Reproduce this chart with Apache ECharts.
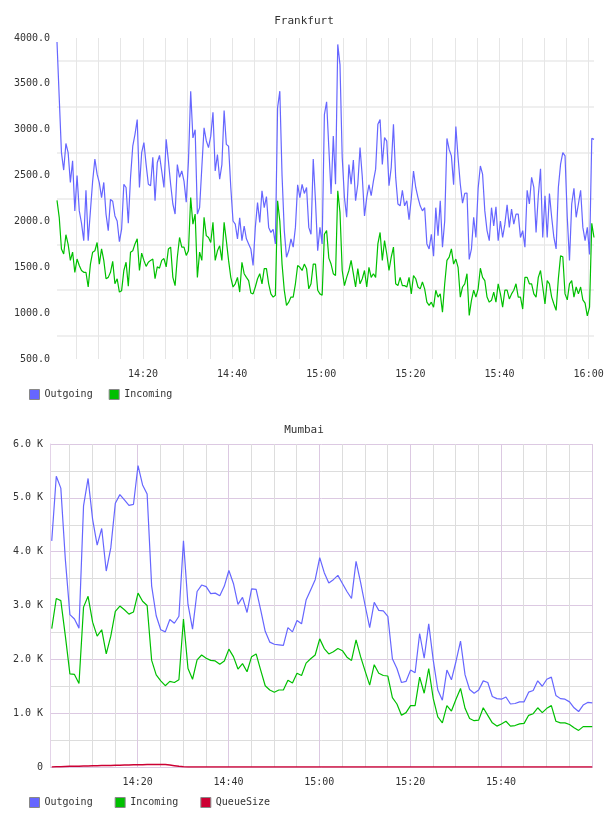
<!DOCTYPE html>
<html>
<head>
<meta charset="utf-8">
<script src="https://cdn.jsdelivr.net/npm/echarts@6/dist/echarts.min.js"></script>
<style>
  html, body { margin: 0; padding: 0; background: #fff; }
  #chart { width: 608px; height: 816px; }
</style>
</head>
<body>
<div id="chart"></div>
<script>
// Frankfurt: one sample every 30 s
const fraStart = '14:00:42'
const fraStepSec = 30
const fraExtent = ['14:00:42', '16:01:12']
const fraOutgoing = [
  3957, 3350, 2750, 2560, 2850, 2750, 2425, 2660, 2115, 2500,
  2115, 1980, 1790, 2340, 1790, 2115, 2440, 2680, 2515, 2420,
  2260, 2425, 2080, 1900, 2240, 2220, 2060, 2005, 1780, 1915,
  2405, 2370, 1980, 2480, 2820, 2950, 3110, 2370, 2750, 2860,
  2620, 2405, 2390, 2700, 2225, 2640, 2720, 2550, 2370, 2895,
  2660, 2405, 2190, 2080, 2620, 2480, 2550, 2440, 2210, 2660,
  3420, 2910, 3000, 2080, 2150, 2590, 3020, 2880, 2805, 2930,
  3190, 2550, 2730, 2460, 2620, 3210, 2840, 2820, 2370, 2005,
  1970, 1810, 2040,
  1790, 1950, 1810, 1755, 1700, 1520, 1935, 2205, 1990, 2335,
  2150, 2270, 1935, 1880, 1915, 1755, 3240, 3420, 2500, 1900,
  1610, 1680, 1810, 1720, 1935, 2400, 2260, 2405, 2305, 2370,
  1935, 1860, 2680, 2225, 1680, 1935, 1755, 3165, 3305, 2800,
  2300, 2930, 2405, 3930, 3710, 2700, 2260, 2045, 2620, 2405,
  2670, 2225, 2405, 2805, 2490, 2060, 2260, 2400, 2280, 2440,
  2570, 3060, 3110, 2620, 2915, 2875, 2390, 2590, 3060, 2480,
  2190, 2170,
  2340, 2170, 2225, 2020, 2250, 2550, 2370, 2260, 2170, 2115,
  2150, 1755, 1700, 1860, 1620, 2150, 1845, 2225, 1720, 2005,
  2905, 2785, 2715, 2400, 3035, 2695, 2405, 2200, 2305, 2310,
  1585, 1700, 2045, 1825, 2360, 2605, 2515, 2115, 1900, 1790,
  2150, 1950, 2160, 1790, 2005, 1825, 1970, 2180, 1935, 2135,
  1970, 2080, 2080, 1825, 1900, 1720, 2340, 2190, 2480, 2370,
  1880, 2280, 2575, 1825, 2280, 1825, 2305, 2045, 1825, 1700,
  2370, 2625, 2750, 2715, 2045, 1575, 2190, 2360, 2045, 2190,
  2340, 1935, 1790, 1935, 1640, 2905, 2895
]
const fraIncoming = [
  2230, 2045, 1700, 1645, 1855, 1750, 1575, 1665, 1445, 1590,
  1520, 1465, 1445, 1445, 1285, 1535, 1665, 1680, 1770, 1535,
  1700, 1575, 1375, 1390, 1445, 1565, 1320, 1375, 1230, 1245,
  1465, 1555, 1295, 1665, 1680, 1755, 1810, 1465, 1655, 1575,
  1510, 1555, 1575, 1590, 1375, 1505, 1490, 1575, 1595, 1505,
  1700, 1720, 1390, 1300, 1610, 1825, 1720, 1720, 1630, 1680,
  2260, 1970, 2080, 1390, 1665, 1575, 2045, 1845, 1825, 1770,
  1990, 1575, 1680, 1735, 1575, 1990, 1790, 1575, 1390, 1285,
  1320, 1390, 1230,
  1555, 1430, 1390, 1355, 1220, 1210, 1285, 1375, 1430, 1320,
  1485, 1485, 1320, 1210, 1175, 1195, 2225, 2005, 1535, 1250,
  1085, 1120, 1175, 1175, 1320, 1520, 1500, 1465, 1535, 1485,
  1265, 1320, 1535, 1535, 1250, 1210, 1195, 1860, 1900, 1600,
  1535, 1430, 1410, 2335, 2100, 1465, 1300, 1390, 1465, 1575,
  1430, 1285, 1485, 1320, 1375, 1465, 1285, 1500, 1390, 1430,
  1390, 1755, 1880, 1575, 1790, 1645, 1465, 1610, 1720, 1320,
  1300, 1390,
  1300, 1300, 1285, 1390, 1210, 1410, 1375, 1285, 1265, 1340,
  1265, 1120, 1085, 1120, 1065, 1250, 1175, 1210, 1010, 1320,
  1575, 1610, 1700, 1535, 1590, 1500, 1175, 1285, 1320, 1430,
  975, 1140, 1250, 1175, 1265, 1490, 1390, 1355, 1175, 1120,
  1140, 1230, 1120, 1320, 1210, 1065, 1250, 1250, 1155, 1210,
  1250, 1320, 1175, 1175, 1045, 1390, 1390, 1320, 1320, 1210,
  1175, 1390, 1465, 1285, 1100, 1355, 1320, 1175, 1100, 1030,
  1375, 1625, 1615, 1210, 1145, 1320, 1355, 1175, 1285, 1210,
  1285, 1145, 1110, 970, 1065, 1980, 1825
]

// Mumbai: one sample every minute
const mumStart = '14:01:05'
const mumStepSec = 60
const mumExtent = ['14:00:42', '16:00:15']
const mumOutgoing = [
  4200, 5400, 5180, 3850, 2830, 2750, 2580, 4850, 5360, 4600,
  4120, 4430, 3640, 4070, 4900, 5060, 4960, 4860, 4880, 5600,
  5240, 5070, 3360, 2810, 2550, 2510, 2740, 2670, 2800, 4200,
  3020, 2560, 3260, 3380, 3350, 3220, 3230, 3180, 3360, 3650,
  3410, 3020, 3150, 2870, 3310, 3300, 2920, 2520, 2320, 2280,
  2270, 2260, 2590, 2510, 2720, 2660, 3100, 3290, 3480, 3890,
  3610, 3420, 3480, 3560, 3410, 3260, 3130, 3820, 3430, 3000,
  2590, 3060, 2910, 2900, 2800, 2010, 1830, 1570, 1590, 1800,
  1750, 2480, 2020, 2660, 1980, 1430, 1240, 1800, 1620, 1960,
  2340, 1710, 1440, 1370, 1430, 1600, 1570, 1310, 1270, 1260,
  1300, 1170, 1180, 1210, 1210, 1390, 1420, 1600, 1500, 1630,
  1670, 1330, 1270, 1260, 1210, 1100, 1030, 1150, 1200, 1190
]
const mumIncoming = [
  2570, 3130, 3090, 2430, 1730, 1720, 1550, 2970, 3170, 2690,
  2430, 2550, 2100, 2430, 2890, 2990, 2920, 2840, 2880, 3230,
  3080, 3000, 1980, 1710, 1600, 1510, 1590, 1570, 1620, 2750,
  1830, 1630, 1990, 2080, 2020, 1980, 1970, 1910, 1970, 2190,
  2050, 1820, 1920, 1770, 2050, 2100, 1800, 1510, 1430, 1390,
  1430, 1430, 1610, 1560, 1740, 1700, 1930, 2010, 2080, 2380,
  2200, 2100, 2140, 2200, 2160, 2040, 1980, 2360, 2050, 1780,
  1520, 1900, 1740, 1700, 1690, 1290, 1170, 960, 1010, 1140,
  1140, 1670, 1370, 1830, 1270, 930, 820, 1140, 1040, 1260,
  1460, 1090, 900, 860, 870, 1100, 960, 820, 760, 800,
  850, 760, 770, 800, 810, 960, 990, 1100, 1010, 1090,
  1140, 850, 820, 820, 790, 730, 680, 750, 750, 750
]
const mumQueueSize = [
  0, 3, 6, 9, 12, 14, 16, 18, 20, 22,
  24, 26, 28, 30, 32, 34, 36, 38, 40, 42,
  44, 45, 46, 47, 48, 46, 38, 25, 12, 4,
  0, 0, 0, 0, 0, 0, 0, 0, 0, 0,
  0, 0, 0, 0, 0, 0, 0, 0, 0, 0,
  0, 0, 0, 0, 0, 0, 0, 0, 0, 0,
  0, 0, 0, 0, 0, 0, 0, 0, 0, 0,
  0, 0, 0, 0, 0, 0, 0, 0, 0, 0,
  0, 0, 0, 0, 0, 0, 0, 0, 0, 0,
  0, 0, 0, 0, 0, 0, 0, 0, 0, 0,
  0, 0, 0, 0, 0, 0, 0, 0, 0, 0,
  0, 0, 0, 0, 0, 0, 0, 0, 0, 0
]

// axis ticks
const fraTimeLabels = ['14:20', '14:40', '15:00', '15:20', '15:40', '16:00']
const mumTimeLabels = ['14:20', '14:40', '15:00', '15:20', '15:40']
const gridTimes = [
  '14:05', '14:10', '14:15', '14:20', '14:25', '14:30', '14:35', '14:40',
  '14:45', '14:50', '14:55', '15:00', '15:05', '15:10', '15:15', '15:20',
  '15:25', '15:30', '15:35', '15:40', '15:45', '15:50', '15:55', '16:00'
]

const FONT = 'DejaVu Sans Mono'
const TEXT = '#333'

// time as seconds since midnight, drawn on a value axis
const toSec = s => {
  const p = s.split(':').map(Number)
  return p[0] * 3600 + p[1] * 60 + (p[2] || 0)
}
const withTime = (start, step, values) => {
  const t0 = toSec(start)
  return values.map((v, i) => [t0 + i * step, v])
}
const hhmm = v => {
  const m = Math.round(v / 60)
  return String(Math.floor(m / 60)).padStart(2, '0') + ':' + String(m % 60).padStart(2, '0')
}

const gridSec = gridTimes.map(toSec)
const mumGridColors = gridTimes.map(t => (Number(t.split(':')[1]) % 20 === 0 ? '#dcc9e2' : '#dddddd'))

const chart = echarts.init(document.getElementById('chart'), null, { renderer: 'canvas' })

const lineSeries = (name, color, data, idx, width) => ({
  name,
  type: 'line',
  xAxisIndex: idx,
  yAxisIndex: idx,
  data,
  showSymbol: false,
  symbol: 'none',
  lineStyle: { color, width: width || 1.2 },
  itemStyle: { color },
  emphasis: { disabled: true }
})

const legendBase = {
  icon: 'rect', itemWidth: 10, itemHeight: 10,
  itemStyle: { borderColor: '#888', borderWidth: 1 },
  textStyle: { fontFamily: FONT, fontSize: 10, color: TEXT }
}

const option = {
  animation: false,
  backgroundColor: '#fff',
  title: [
    { text: 'Frankfurt', left: 'center', top: 11, textStyle: { fontFamily: FONT, fontSize: 11, fontWeight: 'normal', color: TEXT } },
    { text: 'Mumbai', left: 'center', top: 420, textStyle: { fontFamily: FONT, fontSize: 11, fontWeight: 'normal', color: TEXT } }
  ],
  legend: [
    Object.assign({}, legendBase, { data: ['Outgoing', 'Incoming'], left: 24, top: 384, itemGap: 16 }),
    Object.assign({}, legendBase, { data: ['Outgoing', 'Incoming', 'QueueSize'], left: 24, top: 792, itemGap: 22 })
  ],
  grid: [
    { left: 57, top: 38, width: 537, height: 321 },
    { left: 50, top: 444, width: 543, height: 323 }
  ],
  xAxis: [
    {
      type: 'value', gridIndex: 0,
      min: toSec(fraExtent[0]), max: toSec(fraExtent[1]),
      axisLine: { show: false },
      axisTick: { show: false, customValues: gridSec },
      axisLabel: { customValues: fraTimeLabels.map(toSec), formatter: hhmm, fontFamily: FONT, fontSize: 10, color: TEXT, margin: 10 },
      splitLine: { show: true, lineStyle: { color: '#e6e6e6', width: 1 } }
    },
    {
      type: 'value', gridIndex: 1,
      min: toSec(mumExtent[0]), max: toSec(mumExtent[1]),
      axisLine: { show: false },
      axisTick: { show: false, customValues: gridSec },
      axisLabel: { customValues: mumTimeLabels.map(toSec), formatter: hhmm, fontFamily: FONT, fontSize: 10, color: TEXT, margin: 10 },
      splitLine: { show: true, lineStyle: { color: mumGridColors, width: 1 } }
    }
  ],
  yAxis: [
    {
      type: 'value', gridIndex: 0, min: 500, max: 4000, interval: 500,
      axisLine: { show: false }, axisTick: { show: false },
      axisLabel: { formatter: v => v.toFixed(1), fontFamily: FONT, fontSize: 10, color: TEXT, margin: 7 },
      splitLine: { show: false },
      minorTick: { show: false, splitNumber: 2 },
      minorSplitLine: { show: true, lineStyle: { color: '#efefef', width: 2 } }
    },
    {
      type: 'value', gridIndex: 1, min: 0, max: 6000, interval: 1000,
      axisLine: { show: true, lineStyle: { color: '#e3d3e8', width: 1 } }, axisTick: { show: false },
      axisLabel: { formatter: v => (v === 0 ? '0' : (v / 1000).toFixed(1) + ' K'), fontFamily: FONT, fontSize: 10, color: TEXT, margin: 7 },
      splitLine: { show: true, lineStyle: { color: '#dcc9e2', width: 1 } },
      minorTick: { show: false, splitNumber: 2 },
      minorSplitLine: { show: true, lineStyle: { color: '#dddddd', width: 1 } }
    }
  ],
  series: [
    lineSeries('Outgoing', '#6666ff', withTime(fraStart, fraStepSec, fraOutgoing), 0),
    lineSeries('Incoming', '#00c000', withTime(fraStart, fraStepSec, fraIncoming), 0),
    lineSeries('Outgoing', '#6666ff', withTime(mumStart, mumStepSec, mumOutgoing), 1),
    lineSeries('Incoming', '#00c000', withTime(mumStart, mumStepSec, mumIncoming), 1),
    lineSeries('QueueSize', '#cc0033', withTime(mumStart, mumStepSec, mumQueueSize), 1, 1.5)
  ]
}

chart.setOption(option)
</script>
</body>
</html>
